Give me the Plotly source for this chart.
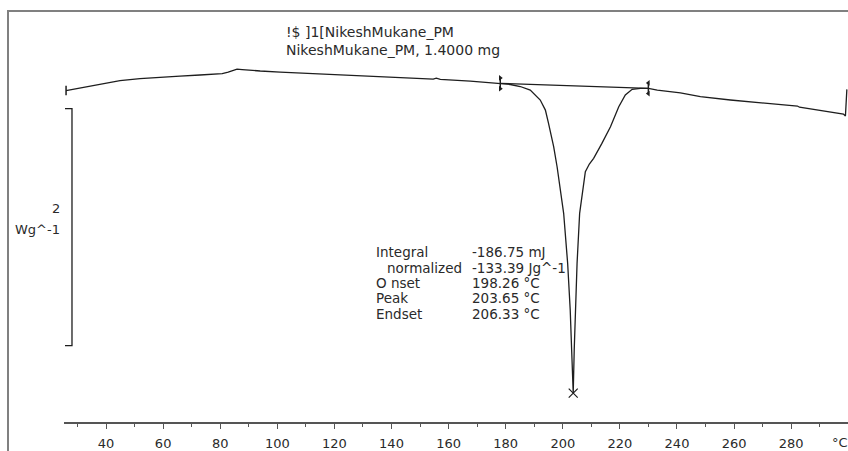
import plotly.graph_objects as go

# ---- data ----
temp_c = [26.0, 30.9, 37.9, 44.9, 51.9, 58.9, 65.9, 72.9, 78.2, 80.7, 82.8, 84.5, 85.9, 87.7,
          90.5, 94.0, 101.0, 108.0, 118.5, 129.0, 139.5, 151.5, 154.6, 155.7, 157.1, 167.6,
          174.6, 178.1, 181.6, 185.1, 188.6, 192.1, 193.9, 195.0, 196.8, 198.0, 199.1, 200.3,
          201.7, 202.6, 203.1, 203.65, 204.0, 204.4, 205.0, 205.9, 207.3, 207.9, 209.3, 210.8,
          213.7, 216.7, 219.6, 221.9, 224.3, 227.2, 230.0, 233.1, 241.2, 248.2, 258.7, 270.3,
          281.5, 282.2, 282.9, 290.3, 298.3, 299.0, 299.5]
heat_flow = [0.000, 0.021, 0.055, 0.084, 0.101, 0.114, 0.122, 0.131, 0.139, 0.143, 0.156, 0.173,
             0.181, 0.177, 0.169, 0.165, 0.156, 0.148, 0.135, 0.122, 0.110, 0.095, 0.097, 0.105,
             0.095, 0.080, 0.068, 0.061, 0.051, 0.034, 0.004, -0.080, -0.165, -0.277, -0.474,
             -0.643, -0.840, -1.036, -1.458, -1.852, -2.190, -2.553, -2.190, -1.852, -1.458,
             -1.036, -0.755, -0.685, -0.620, -0.572, -0.446, -0.305, -0.137, -0.038, 0.010,
             0.019, 0.019, 0.004, -0.019, -0.052, -0.080, -0.108, -0.135, -0.131, -0.141,
             -0.170, -0.198, -0.215, 0.010]

limit_temps = [178.1, 229.97]
limit_values = [0.061, 0.019]
peak_temp = 203.65
peak_value = -2.553

scale_bar_x = 28.08
scale_bar_tick_x = 25.63
scale_bar_top = -0.152
scale_bar_len = 2.0

x_tickvals = [40, 60, 80, 100, 120, 140, 160, 180, 200, 220, 240, 260, 280]

header_lines = ["!$ ]1[NikeshMukane_PM", "NikeshMukane_PM, 1.4000 mg"]
stat_labels = ["Integral", "normalized", "O nset", "Peak", "Endset"]
stat_values = ["-186.75 mJ", "-133.39 Jg^-1", "198.26 °C", "203.65 °C", "206.33 °C"]

# ---- figure ----
W, H = 848, 451
FONT = "DejaVu Sans, Verdana, sans-serif"
LINE = "#1e1e1e"
TXT = "#2a2a2a"

fig = go.Figure()

# main curve
fig.add_trace(go.Scatter(x=temp_c, y=heat_flow, mode="lines",
                         line=dict(color=LINE, width=1.3), hoverinfo="skip"))
# baseline between integration limits
fig.add_trace(go.Scatter(x=limit_temps, y=limit_values, mode="lines",
                         line=dict(color=LINE, width=1.2), hoverinfo="skip"))
# limit markers (vertical brackets with small flags)
for t, v, sym in zip(limit_temps, limit_values, ["triangle-right", "triangle-left"]):
    fig.add_trace(go.Scatter(x=[t, t], y=[v + 0.05, v - 0.05], mode="lines",
                             line=dict(color=LINE, width=1.5), hoverinfo="skip"))
    fig.add_trace(go.Scatter(x=[t, t], y=[v + 0.045, v - 0.045], mode="markers",
                             marker=dict(symbol=sym, size=5, color=LINE), hoverinfo="skip"))
# start marker
fig.add_trace(go.Scatter(x=[temp_c[0], temp_c[0]], y=[heat_flow[0] + 0.04, heat_flow[0] - 0.04],
                         mode="lines", line=dict(color=LINE, width=1.5), hoverinfo="skip"))
# peak cross
fig.add_trace(go.Scatter(x=[peak_temp], y=[peak_value], mode="markers",
                         marker=dict(symbol="x-thin", size=9, line=dict(color=LINE, width=1.2)),
                         hoverinfo="skip"))
# scale bar
fig.add_trace(go.Scatter(
    x=[scale_bar_tick_x, scale_bar_x, scale_bar_x, scale_bar_tick_x],
    y=[scale_bar_top, scale_bar_top, scale_bar_top - scale_bar_len, scale_bar_top - scale_bar_len],
    mode="lines", line=dict(color=LINE, width=1.3), hoverinfo="skip"))

annotations = []
def px_ann(text, px, py, xanchor="left", size=13):
    annotations.append(dict(text=text, x=px / W, y=1 - py / H, xref="paper", yref="paper",
                            xanchor=xanchor, yanchor="middle", showarrow=False,
                            font=dict(family=FONT, size=size, color=TXT)))

px_ann(header_lines[0], 284, 32, size=14)
px_ann(header_lines[1], 284, 50, size=14)
row_y = [252, 268, 283, 298, 314]
for i, (lab, val) in enumerate(zip(stat_labels, stat_values)):
    px_ann(lab, 385 if i == 1 else 374, row_y[i], size=13.5)
    px_ann(val, 470, row_y[i], size=13.5)
px_ann(str(int(scale_bar_len)), 62, 209, xanchor="right")
px_ann("Wg^-1", 62, 229, xanchor="right")
px_ann("°C", 830, 442)

fig.update_layout(
    width=W, height=H, margin=dict(l=0, r=0, t=0, b=0),
    paper_bgcolor="white", plot_bgcolor="white", showlegend=False,
    xaxis=dict(domain=[64 / W, 1], range=[25.28, 299.9], showgrid=False, zeroline=False,
               showline=True, linecolor="#555555", linewidth=1.5,
               tickmode="array", tickvals=x_tickvals, ticks="outside", ticklen=5,
               tickcolor="#555555", tickwidth=1.2,
               minor=dict(dtick=10, tick0=0, ticks="outside", ticklen=3, tickcolor="#555555",
                          tickwidth=1),
               tickfont=dict(family=FONT, size=13, color=TXT), automargin=False,
               ticklabelstandoff=4),
    yaxis=dict(domain=[29 / H, 1], range=[-2.797, 0.764], visible=False, automargin=False),
    annotations=annotations,
    shapes=[dict(type="rect", xref="paper", yref="paper", x0=8 / W, x1=1.02,
                 y0=-0.05, y1=1 - 11 / H, line=dict(color="#808080", width=2),
                 fillcolor="rgba(0,0,0,0)", layer="below")],
)

fig.write_html("out.html")
